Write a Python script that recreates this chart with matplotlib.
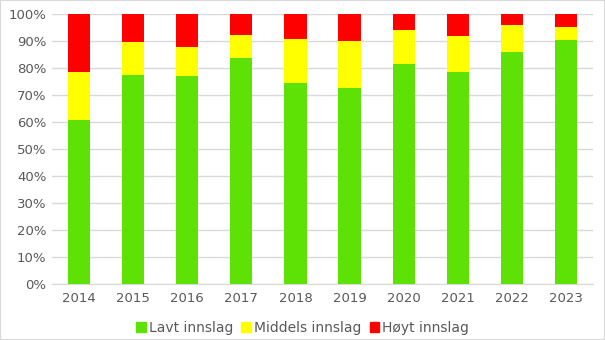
import matplotlib.pyplot as plt
from matplotlib.ticker import FuncFormatter
from matplotlib.patches import Patch

years = ["2014", "2015", "2016", "2017", "2018", "2019", "2020", "2021", "2022", "2023"]
lavt = [60.7, 77.4, 77.0, 83.7, 74.4, 72.6, 81.5, 78.5, 85.9, 90.4]
middels = [17.8, 12.2, 10.8, 8.5, 16.3, 17.4, 12.6, 13.4, 10.0, 4.8]
hoyt = [21.5, 10.4, 12.2, 7.8, 9.3, 10.0, 5.9, 8.1, 4.1, 4.8]

c_low, c_mid, c_high = "#5ee205", "#ffff00", "#ff0000"
txt = "#595959"

fig = plt.figure(figsize=(6.05, 3.4), dpi=100)
ax = fig.add_axes([52/605, 1-284/340, 541/605, 270/340])
x = list(range(len(years)))
w = 0.41
ax.bar(x, lavt, w, color=c_low, zorder=3)
bot2 = [a for a in lavt]
ax.bar(x, middels, w, bottom=bot2, color=c_mid, zorder=3)
bot3 = [a + b for a, b in zip(lavt, middels)]
ax.bar(x, hoyt, w, bottom=bot3, color=c_high, zorder=3)

ax.set_xlim(-0.5, len(years) - 0.5)
ax.set_ylim(0, 100)
ax.set_yticks(range(0, 101, 10))
ax.yaxis.set_major_formatter(FuncFormatter(lambda v, p: f"{int(v)}%"))
ax.set_xticks(x)
ax.set_xticklabels(years)
ax.grid(axis="y", color="#d9d9d9", linewidth=1, zorder=0)
for s in ["top", "right", "left"]:
    ax.spines[s].set_visible(False)
ax.spines["bottom"].set_color("#d9d9d9")
ax.tick_params(axis="both", length=0, colors=txt, labelsize=9.5)
ax.tick_params(axis="x", pad=6)
ax.tick_params(axis="y", pad=4)

handles = [Patch(color=c_low, label="Lavt innslag"),
           Patch(color=c_mid, label="Middels innslag"),
           Patch(color=c_high, label="Høyt innslag")]
leg = fig.legend(handles=handles, loc="center", bbox_to_anchor=(0.5, 1-328/340), ncol=3,
                 frameon=False, fontsize=10, handlelength=0.7, handleheight=0.7,
                 handletextpad=0.2, columnspacing=0.6, labelcolor=txt)

fig.patches.append(plt.Rectangle((0, 0), 1, 1, transform=fig.transFigure, fill=False,
                                 edgecolor="#d9d9d9", linewidth=1.5))
fig.savefig("out.png", dpi=100)
